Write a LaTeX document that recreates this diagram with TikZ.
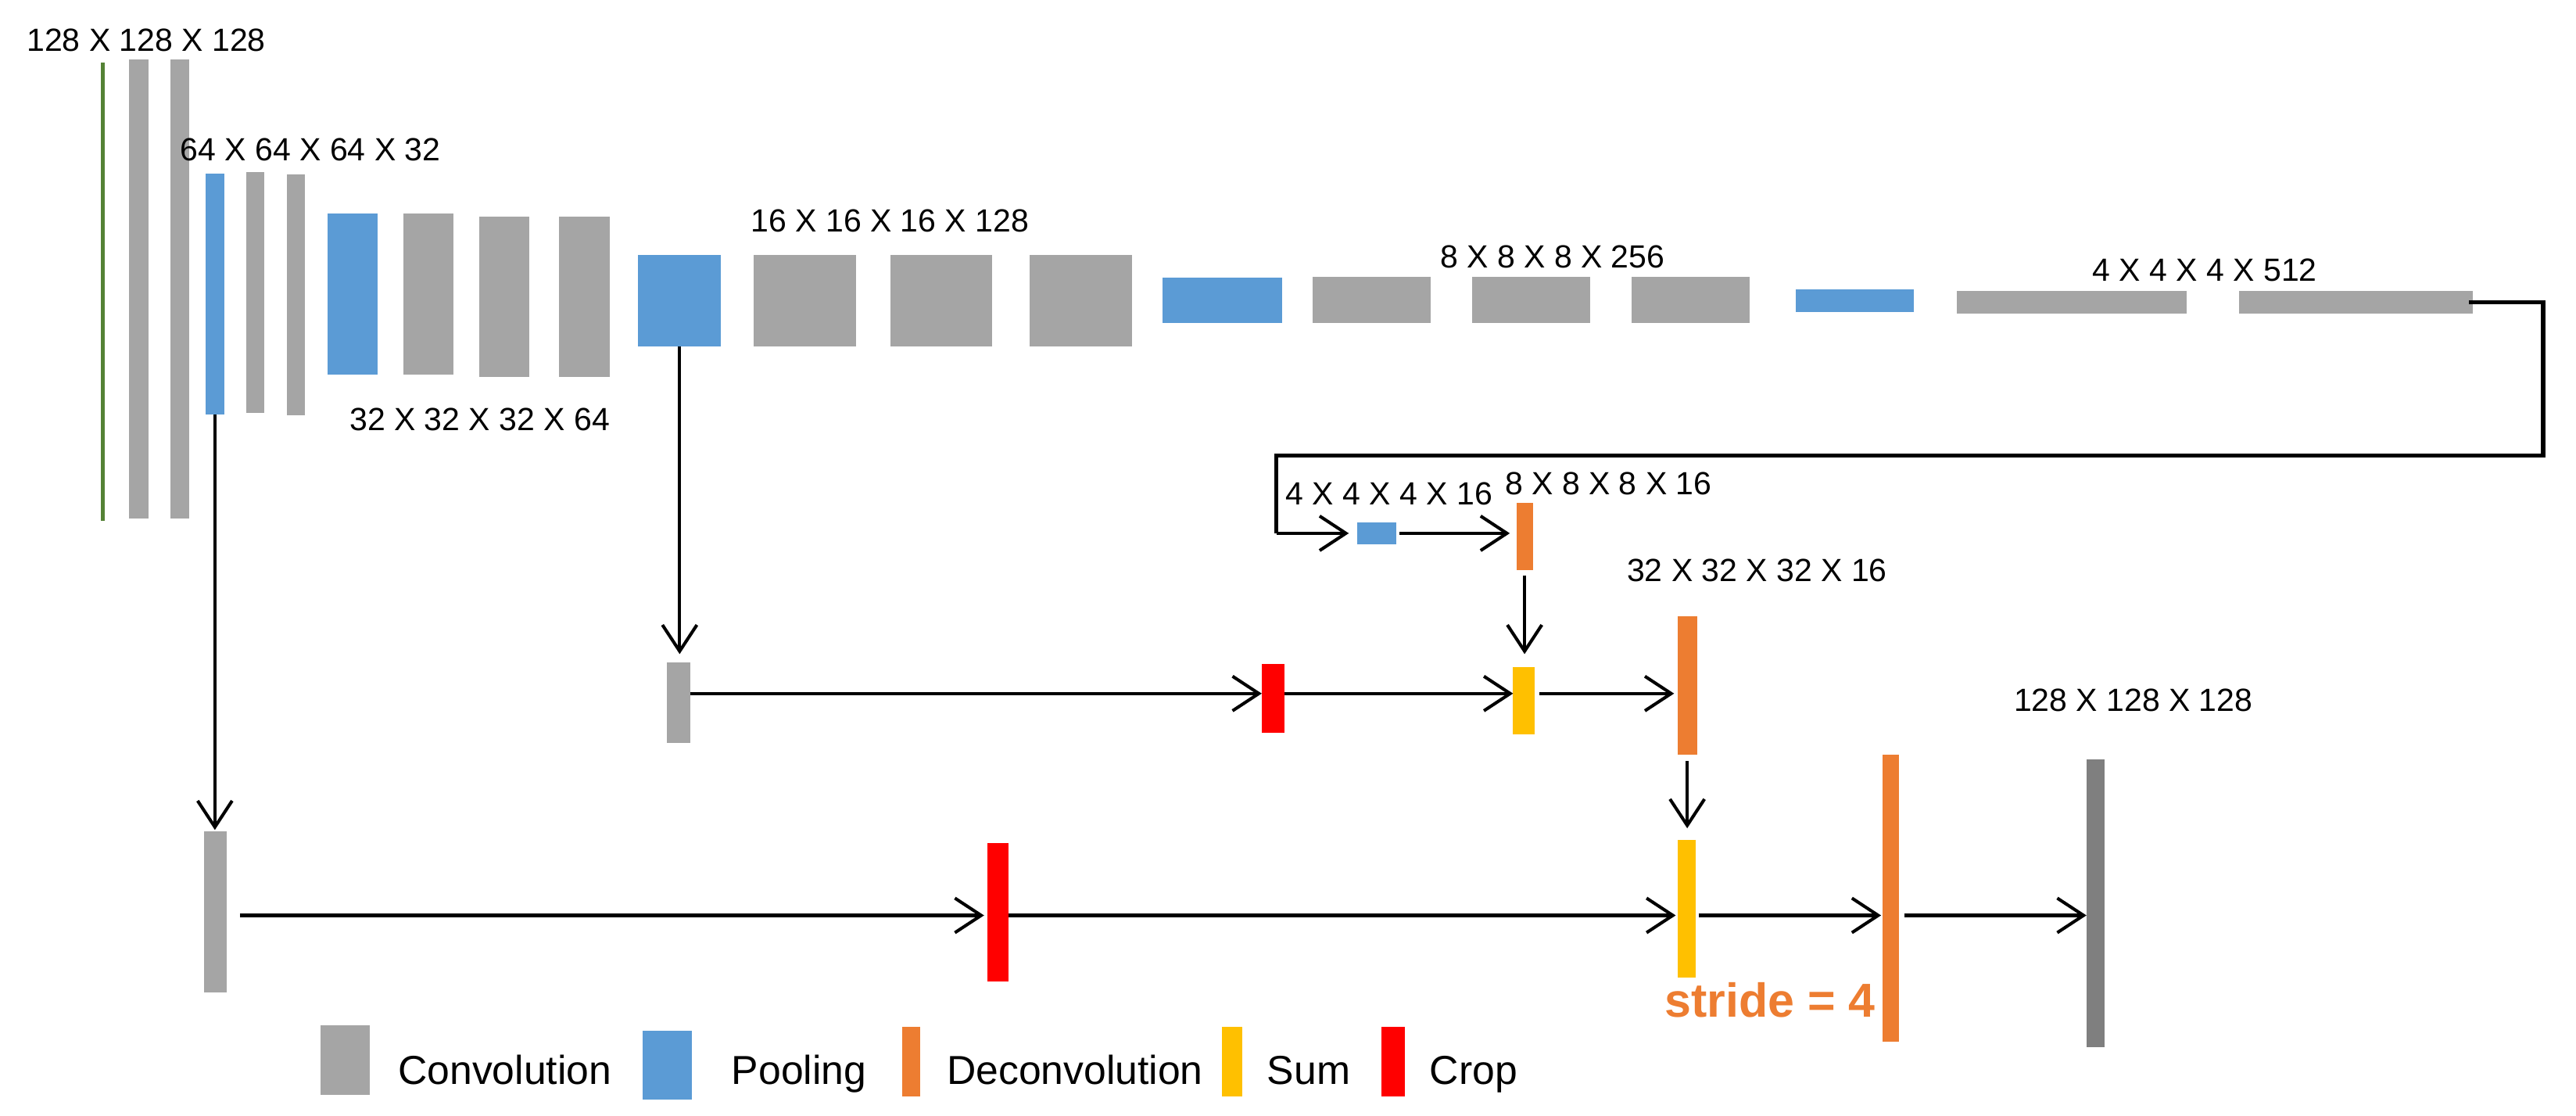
\documentclass[tikz,border=0pt]{standalone}
\usepackage{fontspec}
\setmainfont{Liberation Sans}
\usetikzlibrary{arrows.meta}
\definecolor{convgray}{HTML}{A5A5A5}
\definecolor{poolblue}{HTML}{5B9BD5}
\definecolor{deconvorange}{HTML}{ED7D31}
\definecolor{sumyellow}{HTML}{FFC000}
\definecolor{cropred}{HTML}{FF0000}
\definecolor{outgraycol}{HTML}{7F7F7F}
\definecolor{ingreencol}{HTML}{548235}
\begin{document}
\begin{tikzpicture}[x=0.2mm,y=-0.2mm,
  bar/.style={rectangle, inner sep=0pt, outer sep=0pt, draw=none},
  sz/.style 2 args={minimum width=#1*0.2mm, minimum height=#2*0.2mm},
  conv/.style={bar, fill=convgray},
  pool/.style={bar, fill=poolblue},
  deconv/.style={bar, fill=deconvorange},
  sumbar/.style={bar, fill=sumyellow},
  cropbar/.style={bar, fill=cropred},
  outbar/.style={bar, fill=outgraycol},
  inbar/.style={bar, fill=ingreencol},
  lbl/.style={font=\fontsize{11.1}{13}\selectfont, inner sep=0pt, anchor=base},
  leg/.style={font=\fontsize{14}{16}\selectfont, inner sep=0pt, anchor=base west},
  arr/.style={-{Straight Barb[length=3.2mm,width=4.2mm]}, line width=1.1pt},
]
\useasboundingbox (0,0) rectangle (1568,679);

% encoder
\node[inbar, sz={2.6}{279}] (in) at (62.5,177.5) {};
\node[conv, sz={11.5}{279.5}] (c1) at (84.5,175.8) {};
\node[conv, sz={11.5}{279.5}] (c2) at (109.3,175.8) {};
\node[pool, sz={11.2}{146.6}] (p1) at (130.8,178.9) {};
\node[conv, sz={11}{146.6}] (c3) at (155.4,177.9) {};
\node[conv, sz={11}{146.6}] (c4) at (180.3,179.6) {};
\node[pool, sz={30.6}{98}] (p2) at (214.5,179) {};
\node[conv, sz={30.4}{98}] (c5) at (260.7,179) {};
\node[conv, sz={30.4}{97.7}] (c6) at (307,180.7) {};
\node[conv, sz={30.9}{97.7}] (c7) at (355.5,180.7) {};
\node[pool, sz={50.5}{55.8}] (p3) at (413.7,182.8) {};
\node[conv, sz={62.3}{55.8}] (c8) at (489.8,182.8) {};
\node[conv, sz={62}{55.8}] (c9) at (573,182.8) {};
\node[conv, sz={62.3}{55.8}] (c10) at (658,182.8) {};
\node[pool, sz={73}{28}] (p4) at (743.9,182.7) {};
\node[conv, sz={72}{28}] (c11) at (835,182.5) {};
\node[conv, sz={72}{28}] (c12) at (932,182.5) {};
\node[conv, sz={72}{28}] (c13) at (1029,182.5) {};
\node[pool, sz={72}{14}] (p5) at (1129,183.1) {};
\node[conv, sz={140}{13.8}] (c14) at (1261,183.8) {};
\node[conv, sz={142}{13.8}] (c15) at (1434,183.8) {};

% decoder
\node[pool, sz={24}{13}] (sp) at (838,324.5) {};
\node[deconv, sz={10}{41}] (d8) at (928,326.5) {};
\node[conv, sz={14}{49}] (cm) at (413,427.5) {};
\node[cropbar, sz={14}{42}] (rm) at (775,425) {};
\node[sumbar, sz={13}{41}] (ym) at (927.5,426.5) {};
\node[deconv, sz={12}{84}] (d32) at (1027,417) {};
\node[conv, sz={14}{98}] (cb) at (131,555) {};
\node[cropbar, sz={13}{84}] (rb) at (607.5,555) {};
\node[sumbar, sz={11}{84}] (yb) at (1026.5,553) {};
\node[deconv, sz={10}{175}] (d128) at (1151,546.5) {};
\node[outbar, sz={11}{175}] (out) at (1275.5,549.5) {};

% connectors
\coordinate (k1) at (1548,183.8);
\coordinate (k2) at (777,277);
\coordinate (k3) at (k2 |- sp.west);
\draw[line width=1.4pt, line join=miter, shorten <=-0.4mm] (c15.east) -- (k1) -- (k1 |- k2) -- (k2) -- (k3);
\draw[arr, shorten >=1mm] (k3) -- (sp.west);
\draw[arr, shorten <=0.4mm, shorten >=0.8mm] (sp.east) -- (d8.west |- sp.east);
\draw[arr, shorten <=0.6mm, shorten >=1.6mm] (d8.south) -- (d8.south |- ym.north);
\draw[arr, shorten >=1mm] (p3.south) -- (p3.south |- cm.north);
\coordinate (rowm) at (0,422);
\draw[arr] (cm.east |- rowm) -- (rm.west |- rowm);
\draw[arr] (rm.east |- rowm) -- (ym.west |- rowm);
\draw[arr, shorten <=0.6mm, shorten >=0.4mm] (ym.east |- rowm) -- (d32.west |- rowm);
\draw[arr, shorten <=0.8mm, shorten >=1.4mm] (d32.south) -- (d32.south |- yb.north);
\draw[arr, shorten >=0.2mm] (p1.south) -- (p1.south |- cb.north);
\coordinate (rowb) at (0,557);
\draw[arr, shorten <=1.6mm, shorten >=0.4mm] (cb.east |- rowb) -- (rb.west |- rowb);
\draw[arr, shorten >=0.2mm] (rb.east |- rowb) -- (yb.west |- rowb);
\draw[arr, shorten <=0.4mm, shorten >=0.2mm] (yb.east |- rowb) -- (d128.west |- rowb);
\draw[arr, shorten <=0.6mm] (d128.east |- rowb) -- (out.west |- rowb);

% size labels
\node[lbl] (t1) at (89,31) {128 X 128 X 128};
\node[lbl] (t2) at (189,98) {64 X 64 X 64 X 32};
\node[lbl] (t3) at (292,262) {32 X 32 X 32 X 64};
\node[lbl] (t4) at (541.7,141) {16 X 16 X 16 X 128};
\node[lbl] (t5) at (945,163) {8 X 8 X 8 X 256};
\node[lbl] (t6) at (1342,171) {4 X 4 X 4 X 512};
\node[lbl] (t7) at (845.5,307) {4 X 4 X 4 X 16};
\node[lbl] (t8) at (979,301) {8 X 8 X 8 X 16};
\node[lbl] (t9) at (1069.5,354) {32 X 32 X 32 X 16};
\node[lbl] (t10) at (1298.5,433) {128 X 128 X 128};
\node[font=\bfseries\fontsize{16.5}{18}\selectfont, text=deconvorange, inner sep=0pt, anchor=base] (stride) at (1077.5,619) {stride = 4};

% legend
\node[conv, sz={30}{42}] (lconv) at (210,645) {};
\node[leg] (lconvt) at (242,660) {Convolution};
\node[pool, sz={30}{42}] (lpool) at (406,648) {};
\node[leg] (lpoolt) at (445,660) {Pooling};
\node[deconv, sz={11}{42}] (ldec) at (554.5,646) {};
\node[leg] (ldect) at (576,660) {Deconvolution};
\node[sumbar, sz={12}{42}] (lsum) at (750,646) {};
\node[leg] (lsumt) at (771,660) {Sum};
\node[cropbar, sz={14}{42}] (lcrop) at (848,646) {};
\node[leg] (lcropt) at (870,660) {Crop};
\end{tikzpicture}
\end{document}
